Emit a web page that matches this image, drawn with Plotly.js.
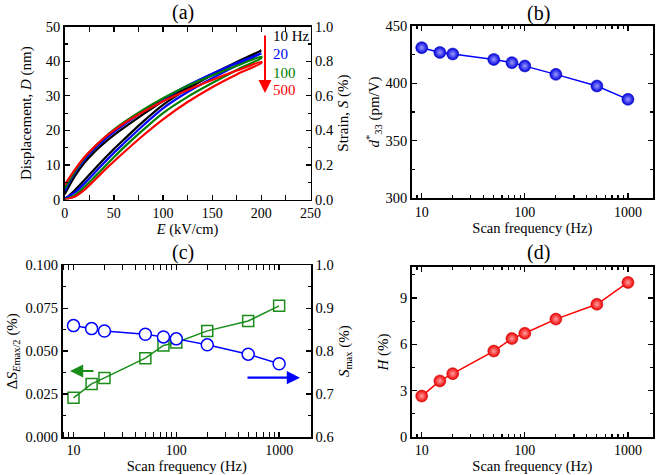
<!DOCTYPE html>
<html>
<head>
<meta charset="utf-8">
<script src="https://cdn.plot.ly/plotly-3.0.1.min.js"></script>
<style>html,body{margin:0;padding:0;background:#fff}#chart{width:660px;height:475px}</style>
</head>
<body>
<div id="chart"></div>
<script>
// ---------- Panel (a): hysteresis loops ----------
const fieldE = [0, 10, 20, 30, 40, 50, 60, 80, 100, 125, 150, 175, 200];
const loopLabels = ['10 Hz', '20', '100', '500'];
const up10  = [0, 2.6, 5.6, 8.7, 11.7, 14.6, 17.3, 22.6, 27.4, 32.0, 36.0, 39.6, 43.1];
const down10 = [1.5, 6.6, 10.6, 13.7, 16.3, 18.6, 20.7, 24.7, 28.5, 32.6, 36.3, 39.8, 43.1];
const up20  = [0.3, 2.0, 4.6, 7.6, 10.6, 13.5, 16.2, 21.5, 26.4, 31.1, 35.1, 38.8, 42.3];
const down20 = [2.5, 7.6, 11.5, 14.6, 17.2, 19.5, 21.6, 25.5, 29.0, 33.0, 36.4, 39.5, 42.3];
const up100  = [0, 1.2, 3.6, 6.4, 9.3, 12.2, 15.0, 20.2, 25.0, 29.7, 33.7, 37.5, 41.0];
const down100 = [3.2, 8.0, 12.0, 15.1, 17.8, 20.2, 22.3, 26.0, 29.3, 32.9, 35.9, 38.7, 41.3];
const up500  = [0, 0.8, 2.8, 5.5, 8.3, 11.0, 13.6, 18.6, 23.2, 28.2, 32.5, 36.2, 39.5];
const down500 = [4.2, 8.5, 12.2, 15.2, 17.8, 20.0, 22.0, 25.4, 28.4, 31.7, 34.6, 37.3, 39.8];

// ---------- Panels (b)-(d): frequency dependence ----------
const freq = [10, 15, 20, 50, 75, 100, 200, 500, 1000];
const d33 = [430.9, 426.8, 425.4, 420.7, 417.9, 415.0, 407.7, 397.6, 386.0];
const dSEmax2 = [0.0228, 0.0309, 0.0344, 0.0459, 0.0533, 0.0550, 0.0618, 0.0676, 0.0764];
const Smax = [0.8595, 0.8525, 0.8470, 0.8394, 0.8332, 0.8286, 0.8147, 0.7930, 0.7707];
const Hyst = [2.65, 3.63, 4.10, 5.56, 6.37, 6.71, 7.63, 8.59, 10.0];

const FONT = 'Liberation Serif, Times New Roman, serif';
const cols = {k:'#000000', b:'#0000ff', g:'#008000', r:'#ff0000'};

function loop(up, down, color) {
  const x = fieldE.concat(fieldE.slice().reverse());
  const y = up.concat(down.slice().reverse());
  return {x, y, type:'scatter', mode:'lines', line:{color, width:2.2, shape:'spline', smoothing:0.8},
          xaxis:'x', yaxis:'y', hoverinfo:'skip', showlegend:false};
}

const traces = [
  loop(up10, down10, cols.k),
  loop(up20, down20, cols.b),
  loop(up100, down100, cols.g),
  loop(up500, down500, cols.r),
  {x:[0], y:[0], xaxis:'x', yaxis:'y2', mode:'markers', marker:{opacity:0}, showlegend:false, hoverinfo:'skip'},
  {x:freq, y:d33, xaxis:'x2', yaxis:'y3', type:'scatter', mode:'lines+markers',
   line:{color:'#0000ff', width:1.5},
   marker:{color:'#0000e0', size:12, line:{color:'#0000b0', width:0.5}, gradient:{type:'radial', color:'#9a9aff'}},
   showlegend:false},
  {x:freq, y:dSEmax2, xaxis:'x3', yaxis:'y4', type:'scatter', mode:'lines+markers',
   line:{color:'#1a8c1a', width:1.5},
   marker:{symbol:'square-open', color:'#1a8c1a', size:11, line:{width:1.5}}, showlegend:false},
  {x:freq, y:Smax, xaxis:'x3', yaxis:'y5', type:'scatter', mode:'lines+markers',
   line:{color:'#0000ff', width:1.5},
   marker:{symbol:'circle', color:'#ffffff', size:12, line:{color:'#0000ff', width:1.5}}, showlegend:false},
  {x:freq, y:Hyst, xaxis:'x4', yaxis:'y6', type:'scatter', mode:'lines+markers',
   line:{color:'#ff0000', width:1.5},
   marker:{color:'#f00000', size:12, line:{color:'#c00000', width:0.5}, gradient:{type:'radial', color:'#ffa0a0'}},
   showlegend:false}
];

const TICKSIZE = 14.5;
const baseAx = {
  showline:true, linecolor:'#000', linewidth:1.6, ticks:'inside', ticklen:5, tickwidth:1.3, tickcolor:'#000',
  showgrid:false, zeroline:false, automargin:false,
  tickfont:{family:FONT, size:TICKSIZE, color:'#000'}
};
function ax(o){ return Object.assign({}, baseAx, o); }
const minorStyle = {ticks:'inside', ticklen:3, tickwidth:1.1, tickcolor:'#000', showgrid:false};
const titleFont = {family:FONT, size:15, color:'#000'};
const xTitleFont = {family:FONT, size:14.5, color:'#000'};

const W = 660, H = 475;
const px = (a,b)=>[a/W, b/W];
const py = (top,bot)=>[1-bot/H, 1-top/H];

const logX = (dom, rng, anchor) => ax({
  type:'log', domain:dom, range:rng, anchor, mirror:'allticks',
  tickmode:'array', tickvals:[10,100,1000], ticktext:['10','100','1000'],
  tickfont:{family:FONT, size:14, color:'#000'},
  minor:Object.assign({}, minorStyle, {tickvals:[2,3,4,5,6,7,8,9].flatMap(d=>[d, d*10, d*100, d*1000])}),
  title:{text:'Scan frequency (Hz)', font:xTitleFont, standoff:3}
});

function panelLabel(t, x, y) {
  return {text:t, xref:'paper', yref:'paper', x:x/W, y:1-y/H, xanchor:'center', yanchor:'middle',
          showarrow:false, font:{family:FONT, size:20, color:'#000'}};
}
function loopLabel(t, y, color) {
  return {text:t, xref:'paper', yref:'paper', x:271/W, y:1-y/H, xanchor:'left', yanchor:'middle',
          showarrow:false, font:{family:FONT, size:15, color}};
}

const layout = {
  width:W, height:H, margin:{l:0, r:0, t:0, b:0},
  paper_bgcolor:'#fff', plot_bgcolor:'#fff', showlegend:false,
  font:{family:FONT, color:'#000'},
  xaxis: ax({domain:px(64.7,310.5), range:[0,250], anchor:'y', mirror:'allticks', dtick:50,
    tickfont:{family:FONT, size:14, color:'#000'},
    minor:Object.assign({}, minorStyle, {dtick:25}),
    title:{text:'<i>E</i> (kV/cm)', font:xTitleFont, standoff:3}}),
  yaxis: ax({domain:py(26.7,199.5), range:[0,50], anchor:'x', mirror:true, dtick:10,
    minor:Object.assign({}, minorStyle, {dtick:5}),
    title:{text:'Displacement, <i>D</i> (nm)', font:titleFont, standoff:10}}),
  yaxis2: ax({overlaying:'y', side:'right', anchor:'x', range:[0,1], dtick:0.2, tickformat:'.1f',
    minor:Object.assign({}, minorStyle, {dtick:0.1}),
    title:{text:'Strain, <i>S</i> (%)', font:titleFont, standoff:4}}),

  xaxis2: logX(px(411.7,653), [0.903,3.243], 'y3'),
  yaxis3: ax({domain:py(25.7,198.3), range:[300,450], anchor:'x2', mirror:'allticks', dtick:50,
    minor:Object.assign({}, minorStyle, {dtick:25}),
    title:{text:'<i>d</i><sup>*</sup><sub>33</sub> (pm/V)', font:titleFont, standoff:2}}),

  xaxis3: logX(px(62.5,311), [0.893,3.31], 'y4'),
  yaxis4: ax({domain:py(265.3,437), range:[0,0.1], anchor:'x3', mirror:true, dtick:0.025, tickformat:'.3f',
    minor:Object.assign({}, minorStyle, {dtick:0.0125}),
    title:{text:'Δ<i>S</i><sub><i>E</i>max/2</sub> (%)', font:titleFont, standoff:4}}),
  yaxis5: ax({overlaying:'y4', side:'right', anchor:'x3', range:[0.6,1.0], dtick:0.1, tickformat:'.1f',
    minor:Object.assign({}, minorStyle, {dtick:0.05}),
    title:{text:'<i>S</i><sub>max</sub> (%)', font:titleFont, standoff:6}}),

  xaxis4: logX(px(411.7,653), [0.903,3.243], 'y6'),
  yaxis6: ax({domain:py(267,437), range:[0,11], anchor:'x4', mirror:'allticks', tickvals:[0,3,6,9],
    minor:Object.assign({}, minorStyle, {tickvals:[1.5,4.5,7.5,10.5]}),
    title:{text:'<i>H</i> (%)', font:titleFont, standoff:8}}),

  annotations: [
    panelLabel('(a)', 183, 12.5),
    panelLabel('(b)', 538, 13),
    panelLabel('(c)', 183, 252),
    panelLabel('(d)', 538, 252),
    loopLabel(loopLabels[0], 36, cols.k),
    loopLabel(loopLabels[1], 54, cols.b),
    loopLabel(loopLabels[2], 72.5, cols.g),
    loopLabel(loopLabels[3], 90, cols.r),
    {text:'', xref:'paper', yref:'paper', x:265/W, y:1-93/H, ax:0, ay:-59, showarrow:true,
     arrowhead:2, arrowsize:1.3, arrowwidth:2, arrowcolor:'#ff0000'},
    {text:'', xref:'paper', yref:'paper', x:70/W, y:1-371/H, ax:25, ay:0, showarrow:true,
     arrowhead:2, arrowsize:1.2, arrowwidth:2.2, arrowcolor:'#1a8c1a'},
    {text:'', xref:'paper', yref:'paper', x:300/W, y:1-377.7/H, ax:-54, ay:0, showarrow:true,
     arrowhead:2, arrowsize:1.2, arrowwidth:2.2, arrowcolor:'#0000ff'}
  ]
};

Plotly.newPlot('chart', traces, layout, {staticPlot:true, displayModeBar:false});
</script>
</body>
</html>
